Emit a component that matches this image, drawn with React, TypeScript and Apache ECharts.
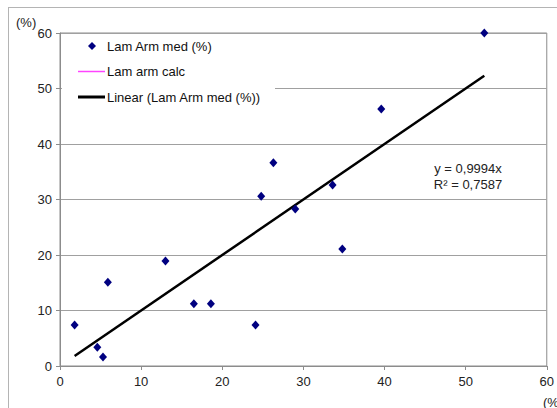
import React, { useEffect, useRef } from "react";
import * as echarts from "echarts";

const measuredX = [1.8, 4.6, 5.3, 5.9, 13.0, 16.5, 18.6, 24.1, 24.8, 26.3, 29.0, 33.6, 34.8, 39.6, 52.3];
const measuredY = [7.4, 3.4, 1.6, 15.1, 18.9, 11.2, 11.2, 7.4, 30.6, 36.6, 28.3, 32.6, 21.1, 46.3, 60.0];
const calcData: number[][] = [];
const trendX = [1.8, 52.3];
const trendY = [1.8, 52.3];
const axisTicks = [0, 10, 20, 30, 40, 50, 60];
const seriesNames = ["Lam Arm med (%)", "Lam arm calc", "Linear (Lam Arm med (%))"];
const seriesColors = ["#000080", "#ff44ff", "#000000"];
const trendText = ["y = 0,9994x", "R² = 0,7587"];

export default function App() {
  const ref = useRef<HTMLDivElement>(null);
  useEffect(() => {
    document.body.style.margin = "0";
    if (!ref.current) return;
    const chart = echarts.init(ref.current, null, { renderer: "svg" });
    const font = "Liberation Sans, Arial, sans-serif";
    const axisColor = "#8c8c8c";
    const txt = (text: string, x: number, y: number) => ({
      type: "text",
      x,
      y,
      style: { text, fill: "#111", font: `13px ${font}`, verticalAlign: "middle" },
    });
    chart.setOption({
      animation: false,
      backgroundColor: "#fff",
      textStyle: { fontFamily: font },
      grid: { left: 60, top: 33, right: 9, bottom: 42, show: true, borderColor: axisColor, borderWidth: 1 },
      xAxis: {
        type: "value",
        min: axisTicks[0],
        max: axisTicks[axisTicks.length - 1],
        interval: 10,
        axisLine: { show: true, onZero: false, lineStyle: { color: axisColor } },
        axisTick: { show: true, inside: false, length: 4, lineStyle: { color: axisColor } },
        axisLabel: { color: "#222", fontSize: 13, fontFamily: font, margin: 9 },
        splitLine: { show: false },
      },
      yAxis: {
        type: "value",
        min: axisTicks[0],
        max: axisTicks[axisTicks.length - 1],
        interval: 10,
        axisLine: { show: true, onZero: false, lineStyle: { color: axisColor } },
        axisTick: { show: true, inside: false, length: 4, lineStyle: { color: axisColor } },
        axisLabel: { color: "#222", fontSize: 13, fontFamily: font, margin: 8 },
        splitLine: { show: true, lineStyle: { color: "#a0a0a0", width: 1 } },
      },
      series: [
        {
          name: seriesNames[0],
          type: "scatter",
          symbol: "diamond",
          symbolSize: [8, 9],
          itemStyle: { color: seriesColors[0], opacity: 1 },
          data: measuredX.map((x, i) => [x, measuredY[i]]),
          z: 5,
        },
        {
          name: seriesNames[1],
          type: "line",
          symbol: "none",
          lineStyle: { color: seriesColors[1], width: 1.5 },
          data: calcData,
        },
        {
          name: seriesNames[2],
          type: "line",
          symbol: "none",
          lineStyle: { color: seriesColors[2], width: 2.5 },
          data: trendX.map((x, i) => [x, trendY[i]]),
          z: 4,
        },
      ],
      graphic: [
        { type: "line", shape: { x1: 8, y1: 7.5, x2: 560, y2: 7.5 }, style: { stroke: "#b4b4b4", lineWidth: 1 }, silent: true },
        { type: "line", shape: { x1: 8.5, y1: 7, x2: 8.5, y2: 410 }, style: { stroke: "#b4b4b4", lineWidth: 1 }, silent: true },
        // legend box
        { type: "rect", shape: { x: 62, y: 35, width: 213, height: 72 }, style: { fill: "#fff" }, z: 10 },
        { type: "polygon", shape: { points: [[92, 42], [96, 46], [92, 50], [88, 46]] }, style: { fill: seriesColors[0] }, z: 11 },
        { ...txt(seriesNames[0], 107, 46), z: 11 },
        { type: "line", shape: { x1: 78, y1: 71.5, x2: 105, y2: 71.5 }, style: { stroke: seriesColors[1], lineWidth: 1.5 }, z: 11 },
        { ...txt(seriesNames[1], 107, 71), z: 11 },
        { type: "line", shape: { x1: 78, y1: 97, x2: 105, y2: 97 }, style: { stroke: seriesColors[2], lineWidth: 3 }, z: 11 },
        { ...txt(seriesNames[2], 107, 97), z: 11 },
        { type: "text", x: 16, y: 22, style: { text: "(%)", fill: "#222", font: `13px ${font}`, verticalAlign: "middle" } },
        { type: "text", x: 543, y: 402, style: { text: "(%)", fill: "#222", font: `13px ${font}`, verticalAlign: "middle" } },
        {
          type: "text",
          x: 468,
          y: 160,
          style: {
            text: trendText.join("\n"),
            fill: "#222",
            font: `13px ${font}`,
            align: "center",
            lineHeight: 16,
          },
        },
      ],
    });
    return () => chart.dispose();
  }, []);
  return <div ref={ref} style={{ width: 557, height: 408 }} />;
}
